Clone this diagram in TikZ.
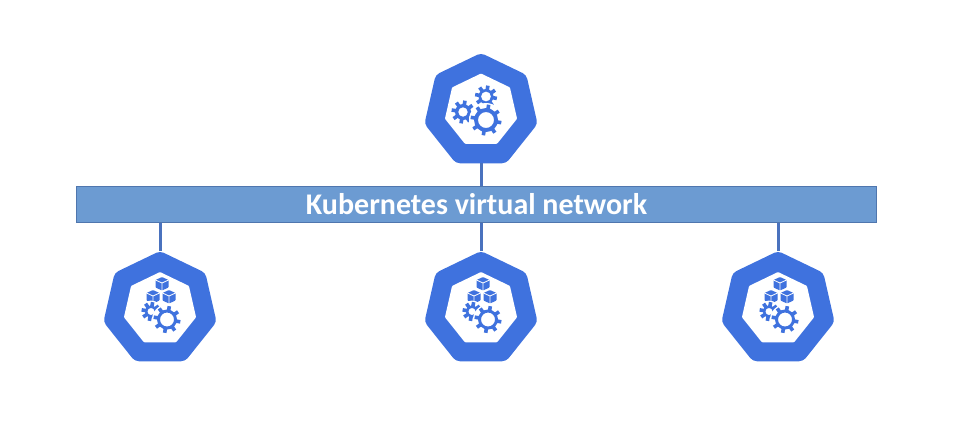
\documentclass[tikz,border=0pt]{standalone}
\usepackage{fontspec}
\setmainfont{Carlito}
\usetikzlibrary{shapes.geometric}
\definecolor{kubeBlue}{HTML}{3F72DE}
\definecolor{netFill}{HTML}{6C9BD2}
\definecolor{netFrame}{HTML}{4F76AE}
\definecolor{linkBlue}{HTML}{4A72BE}

\tikzset{
    hept/.style={regular polygon, regular polygon sides=7, inner sep=0pt, outer sep=0pt},
    kubeOuter/.style={hept, fill=kubeBlue, rounded corners=3pt, minimum size=87pt},
    kubeInner/.style={hept, fill=white, rounded corners=0.6pt, minimum size=55.5pt},
    netBar/.style={draw=netFrame, fill=netFill, line width=0.9pt, inner sep=0pt,
        minimum width=600.5pt, minimum height=26.5pt, text=white, font=\bfseries\fontsize{22.5}{26}\selectfont},
    link/.style={linkBlue, line width=2.25pt},
}

% x, y, body radius, hole radius
\newcommand{\kubegear}[4]{
    \fill[white] (#1,#2) circle (#3+5);
    \foreach \a in {0,45,...,315}
        \draw[kubeBlue, line width=2.7pt] (#1,#2) ++(\a+10:#3-1) -- ++(\a+10:4.5);
    \fill[kubeBlue, even odd rule] (#1,#2) circle (#3) (#1,#2) circle (#4);
}
% x, y
\newcommand{\kubecube}[2]{
    \fill[kubeBlue, rounded corners=0.5pt] (#1,#2-7) -- (#1+6.5,#2-4) -- (#1+6.5,#2+3.5) -- (#1,#2+6.5) -- (#1-6.5,#2+3.5) -- (#1-6.5,#2-4) -- cycle;
    \draw[white, line width=0.6pt] (#1-6.5,#2-4) -- (#1,#2-1) -- (#1+6.5,#2-4) (#1,#2-1) -- (#1,#2+6.5);
}

\begin{document}
\begin{tikzpicture}[x=0.75pt, y=-0.75pt]
    \useasboundingbox (0,0) rectangle (966,426);

    \node[netBar] (net) at (476.5,204.5) {Kubernetes virtual network};

    \node[kubeOuter] (master) at (481,111) {};
    \node[kubeOuter] (worker1) at (160,309) {};
    \node[kubeOuter] (worker2) at (481,309) {};
    \node[kubeOuter] (worker3) at (778,309) {};

    \draw[link] (master.south) -- (master.south |- net.north);
    \foreach \w in {worker1,worker2,worker3}
        \draw[link] (\w.north) -- (\w.north |- net.south);

    % control plane
    \node[kubeInner] (masterInner) at (481,110.5) {};
    \begin{scope}[shift={(masterInner)}]
        \kubegear{5}{-14}{7.5}{5}
        \kubegear{-18}{1.5}{8}{4.8}
        \kubegear{5}{9.5}{12}{8}
    \end{scope}

    % workers
    \foreach \w in {worker1,worker2,worker3} {
        \node[kubeInner] (\w Inner) at (\w) {};
        \begin{scope}[shift={(\w Inner)}]
            \kubecube{2}{-25}
            \kubecube{-7}{-12}
            \kubecube{9}{-12}
            \kubegear{-9}{2.5}{6}{3.6}
            \kubegear{7}{10.5}{10}{7}
        \end{scope}
    }
\end{tikzpicture}
\end{document}
